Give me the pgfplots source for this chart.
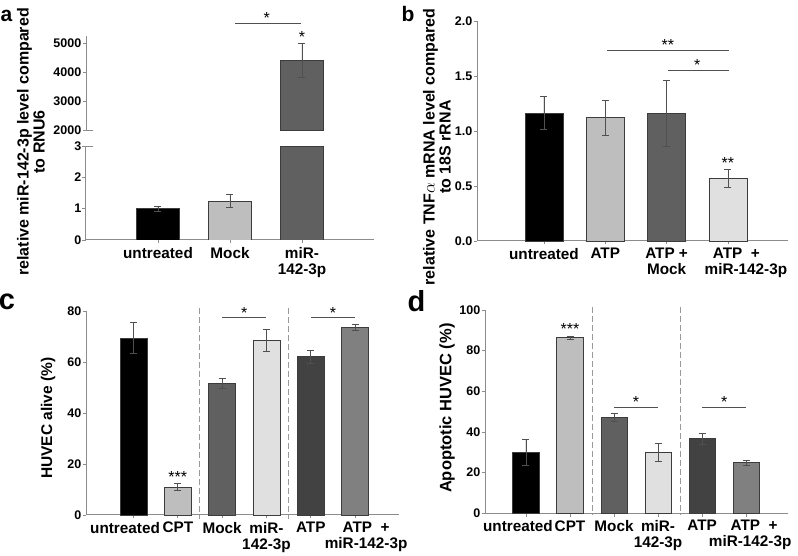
\documentclass[border=0pt]{standalone}
\usepackage{fontspec}
\setmainfont{Liberation Sans}
\usepackage{pgfplots}
\pgfplotsset{compat=1.18}
\definecolor{axisgray}{HTML}{8C8C8C}
\definecolor{edgecol}{HTML}{3C3C3C}
\definecolor{errcol}{HTML}{505050}
\definecolor{gLight}{HTML}{BEBEBE}
\definecolor{gDark}{HTML}{606060}
\definecolor{gPale}{HTML}{E0E0E0}
\definecolor{gDarker}{HTML}{424242}
\definecolor{gMid}{HTML}{808080}
\definecolor{dashcol}{HTML}{9A9A9A}
\newcommand{\tickfont}{\fontsize{12.5}{14}\selectfont\bfseries}
\newcommand{\xlabfont}{\fontsize{15.3}{16}\selectfont\bfseries}
\newcommand{\ylabfont}{\fontsize{16}{16}\selectfont\bfseries}
\pgfplotsset{
 panel/.style={
  scale only axis, anchor=south west,
  axis lines*=left,
  axis line style={draw=axisgray, line width=1pt},
  ybar, bar shift=0pt,
  tick align=outside, major tick length=3.5pt,
  tick style={draw=axisgray, line width=0.8pt},
  yticklabel={\textbf{\pgfmathprintnumber{\tick}}},
  yticklabel style={font=\tickfont, inner xsep=1pt},
  xticklabel style={font=\xlabfont, align=center},
  /pgf/number format/assume math mode=true,
  /pgf/number format/1000 sep={},
  ylabel style={font=\ylabfont, align=center, anchor=center},
  every axis plot/.append style={draw=edgecol, line width=0.6pt},
 },
 eb/.style={/pgfplots/error bars/y dir=both, /pgfplots/error bars/y explicit,
  /pgfplots/error bars/error bar style={line width=0.8pt, draw=errcol, solid},
  /pgfplots/error bars/error mark options={rotate=90, mark size=3.5pt, line width=0.8pt, draw=errcol}},
}
\tikzset{
 sig/.style={draw=errcol, line width=0.8pt},
 star/.style={font=\fontsize{16}{16}\selectfont, inner sep=0pt},
 sep/.style={draw=dashcol, line width=1pt, dash pattern=on 6pt off 3pt},
}
\begin{document}
\begin{tikzpicture}[x=1pt,y=1pt]
\useasboundingbox (0,0) rectangle (798,556);

% ---------- panel a (lower part) ----------
\begin{axis}[panel, at={(86pt,316pt)}, width=288pt, height=94pt,
 xmin=0, xmax=4, ymin=0, ymax=3, ytick={0,1,2,3},
 xtick={1,2,3}, xticklabels={untreated,Mock,{miR-\\142-3p}},
 bar width=0.6, clip mode=individual,
 ylabel={relative miR-142-3p level compared\\to RNU6},
 ylabel style={at={(axis description cs:-0.191,1.043)}}]
\addplot[fill=black, eb] coordinates {(1,1.0) +- (0,0.08)};
\addplot[fill=gLight, eb] coordinates {(2,1.25) +- (0,0.21)};
\addplot[fill=gDark, restrict y to domain*=0:3] coordinates {(3,4400)};
\draw[axisgray, line width=0.8pt] (axis cs:0,3) -- ++(7pt,0pt);
\end{axis}

% ---------- panel a (upper part) ----------
\begin{axis}[panel, at={(86pt,426pt)}, width=288pt, height=94.25pt,
 xmin=0, xmax=4, ymin=2000, ymax=5250, ytick={2000,3000,4000,5000},
 axis x line=none, axis y line*=left,
 bar width=0.6, clip mode=individual]
\addplot[fill=gDark, eb] coordinates {(3,4400) +- (0,600)};
\draw[edgecol, line width=0.6pt] (axis cs:2.7,2000) -- (axis cs:3.3,2000);
\draw[axisgray, line width=0.8pt] (axis cs:0,2000) -- ++(7pt,0pt);
\draw[sig] (axis cs:2.07,5690) -- (axis cs:2.99,5690);
\node[star] at (axis cs:2.51,5860) {*};
\node[star] at (axis cs:3,5207) {*};
\end{axis}

% ---------- panel b ----------
\begin{axis}[panel, at={(477pt,315pt)}, width=311pt, height=220pt,
 xmin=-0.092, xmax=4.98, ymin=0, ymax=2, ytick={0,0.5,1,1.5,2},
 yticklabel style={/pgf/number format/.cd, fixed, fixed zerofill, precision=1},
 xtick={1,2,3,4},
 xticklabels={untreated, ATP, {ATP +\\Mock}, {\hspace*{17pt}ATP\ \ +\\\hspace*{36pt}miR-142-3p}},
 bar width=0.62, clip=false,
 ylabel={relative TNF$\alpha$ mRNA level compared\\to 18S rRNA},
 ylabel style={at={(axis description cs:-0.129,0.427)}}]
\addplot[fill=black, eb] coordinates {(1,1.16) +- (0,0.15)};
\addplot[fill=gLight, eb] coordinates {(2,1.12) +- (0,0.16)};
\addplot[fill=gDark, eb] coordinates {(3,1.16) +- (0,0.30)};
\addplot[fill=gPale, eb] coordinates {(4,0.57) +- (0,0.085)};
\draw[sig] (axis cs:2.03,1.736) -- (axis cs:4.02,1.736);
\node[star] at (axis cs:3.02,1.786) {**};
\draw[sig] (axis cs:3.02,1.555) -- (axis cs:4.02,1.555);
\node[star] at (axis cs:3.5,1.60) {*};
\node[star] at (axis cs:4,0.71) {**};
\end{axis}

% ---------- panel c ----------
\begin{axis}[panel, at={(86pt,41pt)}, width=313pt, height=204pt,
 xmin=-0.072, xmax=6.99, ymin=0, ymax=80, ytick={0,20,40,60,80},
 xtick={1,2,3,4,5,6},
 xticklabels={untreated\hspace*{17pt}, CPT, Mock, {miR-\\142-3p}, ATP, {\hspace*{22pt}ATP\ \ +\\\hspace*{22pt}miR-142-3p}},
 bar width=0.61, clip=false,
 ylabel={HUVEC alive (\%)},
 ylabel style={at={(axis description cs:-0.121,0.475)}, font=\fontsize{15.5}{16}\selectfont\bfseries}]
\addplot[fill=black, eb] coordinates {(1,69.4) +- (0,6.0)};
\addplot[fill=gLight, eb] coordinates {(2,11.0) +- (0,1.2)};
\addplot[fill=gDark, eb] coordinates {(3,51.6) +- (0,1.9)};
\addplot[fill=gPale, eb] coordinates {(4,68.6) +- (0,4.3)};
\addplot[fill=gDarker, eb] coordinates {(5,62.1) +- (0,2.6)};
\addplot[fill=gMid, eb] coordinates {(6,73.6) +- (0,1.2)};
\draw[sep] (axis cs:2.5,81) -- (axis cs:2.5,-1.5);
\draw[sep] (axis cs:4.5,81) -- (axis cs:4.5,-1.5);
\draw[sig] (axis cs:3,77.3) -- (axis cs:4,77.3);
\node[star] at (axis cs:3.5,79.3) {*};
\draw[sig] (axis cs:5,77.3) -- (axis cs:6,77.3);
\node[star] at (axis cs:5.5,79.3) {*};
\node[star] at (axis cs:2,14.9) {***};
\end{axis}

% ---------- panel d ----------
\begin{axis}[panel, at={(485pt,42.7pt)}, width=303pt, height=203.3pt,
 xmin=0.07, xmax=6.95, ymin=0, ymax=100, ytick={0,20,40,60,80,100},
 xtick={1,2,3,4,5,6},
 xticklabels={untreated\hspace*{16pt}, CPT, Mock, {miR-\\142-3p}, ATP, {\hspace*{16pt}ATP\ \ +\\\hspace*{8pt}miR-142-3p}},
 bar width=0.6, clip=false,
 ylabel={Apoptotic HUVEC (\%)},
 ylabel style={at={(axis description cs:-0.125,0.517)}, font=\fontsize{16.5}{17}\selectfont\bfseries}]
\addplot[fill=black, eb] coordinates {(1,30.0) +- (0,6.4)};
\addplot[fill=gLight, eb] coordinates {(2,86.4) +- (0,0.8)};
\addplot[fill=gDark, eb] coordinates {(3,47.2) +- (0,2.0)};
\addplot[fill=gPale, eb] coordinates {(4,30.0) +- (0,4.4)};
\addplot[fill=gDarker, eb] coordinates {(5,36.7) +- (0,2.6)};
\addplot[fill=gMid, eb] coordinates {(6,24.9) +- (0,1.2)};
\draw[sep] (axis cs:2.5,101.5) -- (axis cs:2.5,-1);
\draw[sep] (axis cs:4.5,101.5) -- (axis cs:4.5,-1);
\draw[sig] (axis cs:3,52.1) -- (axis cs:4,52.1);
\node[star] at (axis cs:3.5,54.9) {*};
\draw[sig] (axis cs:5,52.1) -- (axis cs:6,52.1);
\node[star] at (axis cs:5.5,54.9) {*};
\node[star] at (axis cs:2,90.6) {***};
\end{axis}

% panel letters
\node[font=\fontsize{21}{21}\selectfont\bfseries] at (6.5pt,540pt) {a};
\node[font=\fontsize{21}{21}\selectfont\bfseries] at (408pt,541.5pt) {b};
\node[font=\fontsize{29}{29}\selectfont\bfseries] at (7pt,254.5pt) {c};
\node[font=\fontsize{29}{29}\selectfont\bfseries] at (416.5pt,255pt) {d};
\end{tikzpicture}
\end{document}
